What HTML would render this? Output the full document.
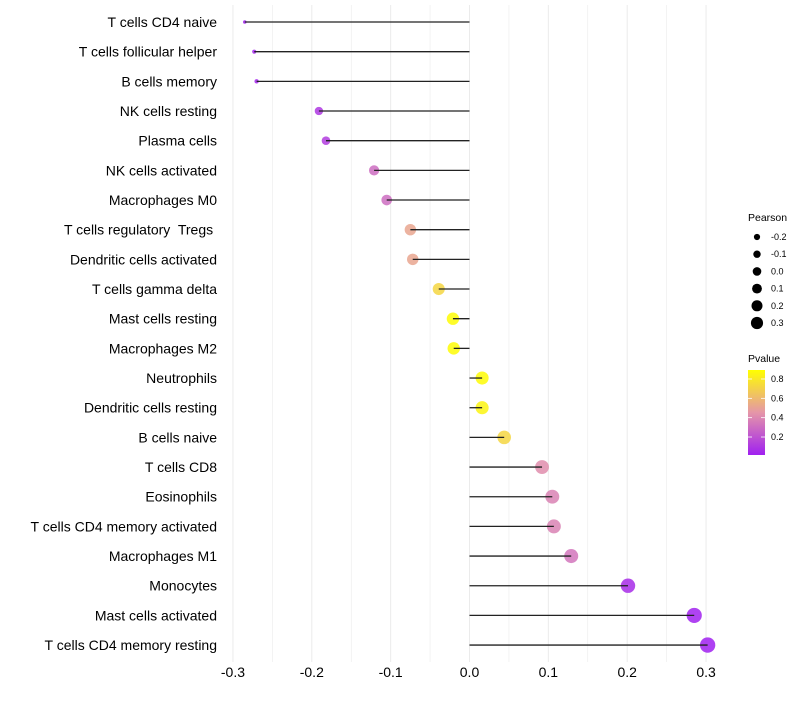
<!DOCTYPE html>
<html><head><meta charset="utf-8"><style>
body{margin:0;background:#fff;font-family:"Liberation Sans",sans-serif}
text{white-space:pre}
</style></head><body>
<svg id="chart" width="800" height="700" xmlns="http://www.w3.org/2000/svg" style="font-family:'Liberation Sans',sans-serif">
<defs><linearGradient id="pg" x1="0" y1="1" x2="0" y2="0">
<stop offset="0" stop-color="#A020F0"/><stop offset="0.5" stop-color="#E596A8"/><stop offset="1" stop-color="#FFFF00"/>
</linearGradient></defs>
<g id="grid"></g><g id="marks"></g><g id="labels"></g>
<g font-size="9" fill="#000">
<text x="748" y="221" font-size="10.5">Pearson</text>
<g id="sizeLegend"></g>
</g>
<g fill="#000">
<text x="748" y="362" font-size="10.5">Pvalue</text>
<rect x="748" y="370" width="17" height="85" fill="url(#pg)"/>
<g id="cbTicks" font-size="9"></g>
</g>
</svg>
<script>
const categories=["T cells CD4 naive","T cells follicular helper","B cells memory","NK cells resting","Plasma cells","NK cells activated","Macrophages M0","T cells regulatory  Tregs ","Dendritic cells activated","T cells gamma delta","Mast cells resting","Macrophages M2","Neutrophils","Dendritic cells resting","B cells naive","T cells CD8","Eosinophils","T cells CD4 memory activated","Macrophages M1","Monocytes","Mast cells activated","T cells CD4 memory resting"];
const pearson=[-0.285,-0.273,-0.270,-0.191,-0.182,-0.121,-0.105,-0.075,-0.072,-0.039,-0.021,-0.020,0.016,0.016,0.044,0.092,0.105,0.107,0.129,0.201,0.285,0.302];
const pvalue=[0.02,0.03,0.03,0.1,0.12,0.3,0.3,0.52,0.52,0.72,0.88,0.88,0.88,0.85,0.72,0.42,0.38,0.38,0.33,0.06,0.02,0.01];
const xTicks=[-0.3,-0.2,-0.1,0.0,0.1,0.2,0.3];
const sizeLegendVals=[-0.2,-0.1,0.0,0.1,0.2,0.3];
const pTicks=[0.2,0.4,0.6,0.8];
const NS="http://www.w3.org/2000/svg";
const X=v=>469.5+v*788.5;
const Y=i=>22+i*29.67;
const RA=[[-0.3,1.5],[-0.285,1.8],[-0.19,4.2],[-0.075,5.7],[0.044,6.8],[0.2,7.2],[0.31,7.7]];
function R(v){if(v<=RA[0][0])return RA[0][1];for(let k=1;k<RA.length;k++){if(v<=RA[k][0]){const a=RA[k-1],b=RA[k];return a[1]+(b[1]-a[1])*(v-a[0])/(b[0]-a[0]);}}return RA[RA.length-1][1];}
const RL=v=>4.3+6*v;
const PY=p=>455-(p-0.014)/(0.893-0.014)*85;
function lerp(a,b,t){return a.map((x,k)=>Math.round(x+(b[k]-x)*t));}
function col(p){const t=Math.max(0,Math.min(1,(p-0.014)/(0.879)));const A=[160,32,240],M=[229,150,168],B=[255,255,0];const c=t<0.5?lerp(A,M,t/0.5):lerp(M,B,(t-0.5)/0.5);return `rgb(${c})`;}
function mk(tag,at,parent){const e=document.createElementNS(NS,tag);for(const k in at)e.setAttribute(k,at[k]);parent.appendChild(e);return e;}
const grid=document.getElementById('grid'),marks=document.getElementById('marks'),labels=document.getElementById('labels');
for(let v=-0.3;v<=0.3001;v+=0.05){const l=mk('line',{x1:X(v),x2:X(v),y1:5,y2:662,stroke:'#ebebeb','stroke-width':Math.abs(Math.round(v*20))%2===0?1:0.6},grid);

}
xTicks.forEach(v=>{const t=mk('text',{x:X(v),y:677,'text-anchor':'middle','font-size':14,fill:'#000'},labels);t.textContent=v.toFixed(1);

});
categories.forEach((c,i)=>{const y=Y(i);
const t=mk('text',{x:217,y:y+5,'text-anchor':'end','font-size':14,fill:'#000'},labels);t.textContent=c;


const d=mk('circle',{cx:X(pearson[i]),cy:y,r:R(pearson[i]),fill:col(pvalue[i]),'fill-opacity':0.85},marks);


const s=mk('line',{x1:X(0),x2:X(pearson[i]),y1:y,y2:y,stroke:'#222','stroke-width':1.3},marks);

});
const sl=document.getElementById('sizeLegend');
sizeLegendVals.forEach((v,k)=>{const y=237+k*17.2;
const c=mk('circle',{cx:757,cy:y,r:RL(v),fill:'#000'},sl);


const t=mk('text',{x:771,y:y+3},sl);t.textContent=v.toFixed(1);

});
const cb=document.getElementById('cbTicks');
pTicks.forEach(p=>{const y=PY(p);
const a=mk('line',{x1:748,x2:752,y1:y,y2:y,stroke:'#fff','stroke-width':0.8},cb);


const b=mk('line',{x1:761,x2:765,y1:y,y2:y,stroke:'#fff','stroke-width':0.8},cb);


const t=mk('text',{x:771,y:y+3},cb);t.textContent=p.toFixed(1);

});
</script>
</body></html>
